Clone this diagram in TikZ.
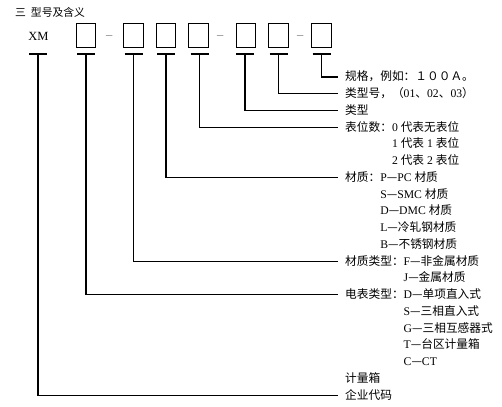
\documentclass[tikz,border=0pt]{standalone}
\usepackage{fontspec}
\setmainfont{Liberation Serif}
\newfontfamily\cjk{Noto Sans CJK SC}
\newcommand\zh[1]{{\cjk #1}}
\begin{document}
\begin{tikzpicture}[x=1pt,y=-1pt,
  lab/.style={anchor=west, inner sep=0pt, text height=8.8pt, text depth=1.2pt,
              font=\fontsize{11.7}{14}\selectfont},
  box/.style={draw, line width=1.1pt, minimum width=19.5pt, minimum height=24.5pt, inner sep=0pt},
  dashmark/.style={draw, line width=1pt, minimum width=6.5pt, minimum height=0pt, inner sep=0pt, shape=rectangle},
  bar/.style={line width=1.1pt},
  lead/.style={line width=1.1pt, shorten >=7pt}]
\useasboundingbox (0,0) rectangle (502,406);
% title
\node[anchor=west, inner sep=0pt, font=\fontsize{10.8}{12}\selectfont] (title) at (15,12) {\zh{三\hspace{5pt}型号及含义}};
% code parts
\node[inner sep=0pt, font=\fontsize{12.5}{14}\selectfont] (xm) at (38.5,36.5) {XM};
\node[box] (b1) at (86,35.5) {};
\node[dashmark] (d1) at (109,36) {};
\node[box] (b2) at (133.5,35.5) {};
\node[box] (b3) at (166,35.5) {};
\node[box] (b4) at (198.5,35.5) {};
\node[dashmark] (d2) at (220,36) {};
\node[box] (b5) at (246,35.5) {};
\node[box] (b6) at (278.5,35.5) {};
\node[dashmark] (d3) at (300,36) {};
\node[box] (b7) at (321.5,35.5) {};
% bar tops
\coordinate (t0) at (38,54);
\coordinate (t1) at (86,54);
\coordinate (t2) at (133.5,54);
\coordinate (t3) at (166,54);
\coordinate (t4) at (199.5,54);
\coordinate (t5) at (245,54);
\coordinate (t6) at (278.5,54);
\coordinate (t7) at (321.5,54);
\foreach \t in {t0,t1,t2,t3,t4,t5,t6,t7}
  \draw[bar] ([xshift=-9pt]\t) -- ([xshift=9pt]\t);
% labels
\def\rowy#1{77+16.75*#1}
\node[lab] (l0) at (345,{\rowy{0}}) {\zh{规格，例如：１００Ａ。}};
\node[lab] (l1) at (345,{\rowy{1}}) {\zh{类型号，（}01\zh{、}02\zh{、}03\zh{）}};
\node[lab] (l2) at (345,{\rowy{2}}) {\zh{类型}};
\node[lab] (l3) at (345,{\rowy{3}}) {\zh{表位数：}0 \zh{代表无表位}};
\node[lab] (l4) at (345,{\rowy{4}}) {\phantom{\zh{表位数：}}1 \zh{代表} 1 \zh{表位}};
\node[lab] (l5) at (345,{\rowy{5}}) {\phantom{\zh{表位数：}}2 \zh{代表} 2 \zh{表位}};
\node[lab] (l6) at (345,{\rowy{6}}) {\zh{材质：}P\zh{—}PC \zh{材质}};
\node[lab] (l7) at (345,{\rowy{7}}) {\phantom{\zh{材质：}}S\zh{—}SMC \zh{材质}};
\node[lab] (l8) at (345,{\rowy{8}}) {\phantom{\zh{材质：}}D\zh{—}DMC \zh{材质}};
\node[lab] (l9) at (345,{\rowy{9}}) {\phantom{\zh{材质：}}L\zh{—冷轧钢材质}};
\node[lab] (l10) at (345,{\rowy{10}}) {\phantom{\zh{材质：}}B\zh{—不锈钢材质}};
\node[lab] (l11) at (345,{\rowy{11}}) {\zh{材质类型：}F\zh{—非金属材质}};
\node[lab] (l12) at (345,{\rowy{12}}) {\phantom{\zh{材质类型：}}J\zh{—金属材质}};
\node[lab] (l13) at (345,{\rowy{13}}) {\zh{电表类型：}D\zh{—单项直入式}};
\node[lab] (l14) at (345,{\rowy{14}}) {\phantom{\zh{电表类型：}}S\zh{—三相直入式}};
\node[lab] (l15) at (345,{\rowy{15}}) {\phantom{\zh{电表类型：}}G\zh{—三相互感器式}};
\node[lab] (l16) at (345,{\rowy{16}}) {\phantom{\zh{电表类型：}}T\zh{—台区计量箱}};
\node[lab] (l17) at (345,{\rowy{17}}) {\phantom{\zh{电表类型：}}C\zh{—}CT};
\node[lab] (l18) at (345,{\rowy{18}}) {\zh{计量箱}};
\node[lab] (l19) at (345,{\rowy{19}}) {\zh{企业代码}};
% leaders
\draw[lead] (t7) |- (l0.west);
\draw[lead] (t6) |- (l1.west);
\draw[lead] (t5) |- (l2.west);
\draw[lead] (t4) |- (l3.west);
\draw[lead] (t3) |- (l6.west);
\draw[lead] (t2) |- (l11.west);
\draw[lead] (t1) |- (l13.west);
\draw[lead] (t0) |- (l19.west);
\end{tikzpicture}
\end{document}
